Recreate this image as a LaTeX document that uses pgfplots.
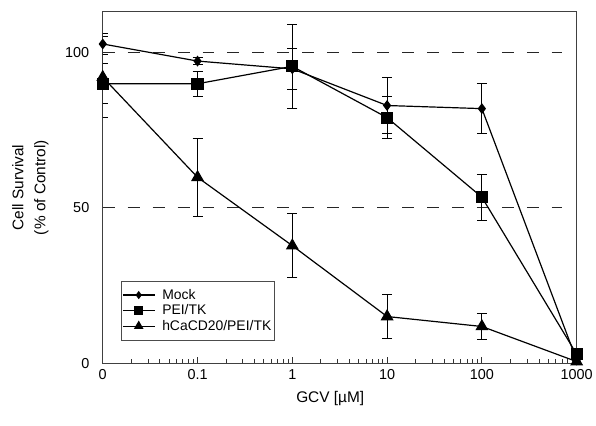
\documentclass[border=0pt]{standalone}
\usepackage{fontspec}
\setmainfont{Liberation Sans}
\usepackage{pgfplots}
\pgfplotsset{compat=1.18}
\begin{document}
\begin{tikzpicture}
\begin{axis}[
  at={(103bp,62bp)}, anchor=south west,
  scale only axis,
  width=475bp, height=352bp,
  xmode=log,
  xmin=0.01, xmax=1000,
  ymin=0, ymax=113,
  xtick={0.01,0.1,1,10,100,1000},
  xticklabels={0,0.1,1,10,100,1000},
  minor xtick={0.02,0.03,0.04,0.05,0.06,0.07,0.08,0.09,
               0.2,0.3,0.4,0.5,0.6,0.7,0.8,0.9,
               2,3,4,5,6,7,8,9,
               20,30,40,50,60,70,80,90,
               200,300,400,500,600,700,800,900},
  ytick={0,50,100},
  xtick pos=bottom, ytick pos=left,
  tick align=inside,
  major tick length=6bp, minor tick length=4bp,
  axis line style={black!75, line width=1bp},
  tick style={black!80, line width=0.8bp},
  /pgf/number format/assume math mode=true,
  tick label style={font=\fontsize{14.5}{16}\selectfont},
  xticklabel style={yshift=-3bp},
  yticklabel style={xshift=-10bp},
  xlabel={GCV [µM]},
  xlabel style={font=\fontsize{15.5}{17}\selectfont, at={(axis description cs:0.48,-0.07)}, anchor=north},
  ylabel={Cell Survival\\(\% of Control)},
  ylabel style={font=\fontsize{15.5}{22}\selectfont, align=center, at={(axis description cs:-0.107,0.5)}, anchor=south},
  legend style={at={(axis description cs:0.038,0.065)}, anchor=south west,
    draw=black!70, line width=0.8bp, fill=white,
    font=\fontsize{14}{15}\selectfont, row sep=0bp,
    inner xsep=1bp, inner ysep=6bp,
    /tikz/every odd column/.append style={column sep=5bp}},
  legend cell align=left,
  legend image code/.code={
    \draw[every mark/.append style={scale=0.7}, mark repeat=2, mark phase=2]
      plot coordinates {(0bp,0bp) (16bp,0bp) (32bp,0bp)};
  },
  error bars/y dir=both,
  error bars/y explicit,
  error bars/error bar style={black, line width=1bp},
  error bars/error mark options={black, line width=1bp, mark size=5bp, rotate=90},
]
% reference lines at 50 and 100 %
\addplot[black!85, line width=1bp, dash pattern=on 12bp off 13bp, forget plot, no marks]
  coordinates {(0.01,100) (700,100)};
\addplot[black!85, line width=1bp, dash pattern=on 12bp off 13bp, forget plot, no marks]
  coordinates {(0.01,50) (700,50)};

\addplot[black, line width=1.2bp, mark=diamond*, mark size=4.5bp]
  coordinates {
    (0.01,102.7) +- (0,3.5)
    (0.1,97.2)   +- (0,1.0)
    (1,94.7)     +- (0,6.5)
    (10,82.9)    +- (0,9.0)
    (100,81.9)   +- (0,8.0)
    (1000,1.0)   +- (0,1.0)
  };
\addlegendentry{Mock}
\addplot[black, line width=1.2bp, mark=square*, mark size=5.5bp]
  coordinates {
    (0.01,89.9)  +- (0,6.5)
    (0.1,89.9)   +- (0,4.0)
    (1,95.5)     +- (0,13.5)
    (10,79.0)    +- (0,6.8)
    (100,53.4)   +- (0,7.4)
    (1000,2.9)   +- (0,1.5)
  };
\addlegendentry{PEI/TK}
\addplot[black, line width=1.2bp, mark=triangle*, mark size=6.3bp]
  coordinates {
    (0.01,92.0)  +- (0,13.0)
    (0.1,59.8)   +- (0,12.5)
    (1,37.8)     +- (0,10.3)
    (10,15.0)    +- (0,7.2)
    (100,11.8)   +- (0,4.3)
    (1000,0.5)   +- (0,0.5)
  };
\addlegendentry{hCaCD20/PEI/TK}
\end{axis}
\path (0,0) rectangle (596bp,426bp);
\end{tikzpicture}
\end{document}
